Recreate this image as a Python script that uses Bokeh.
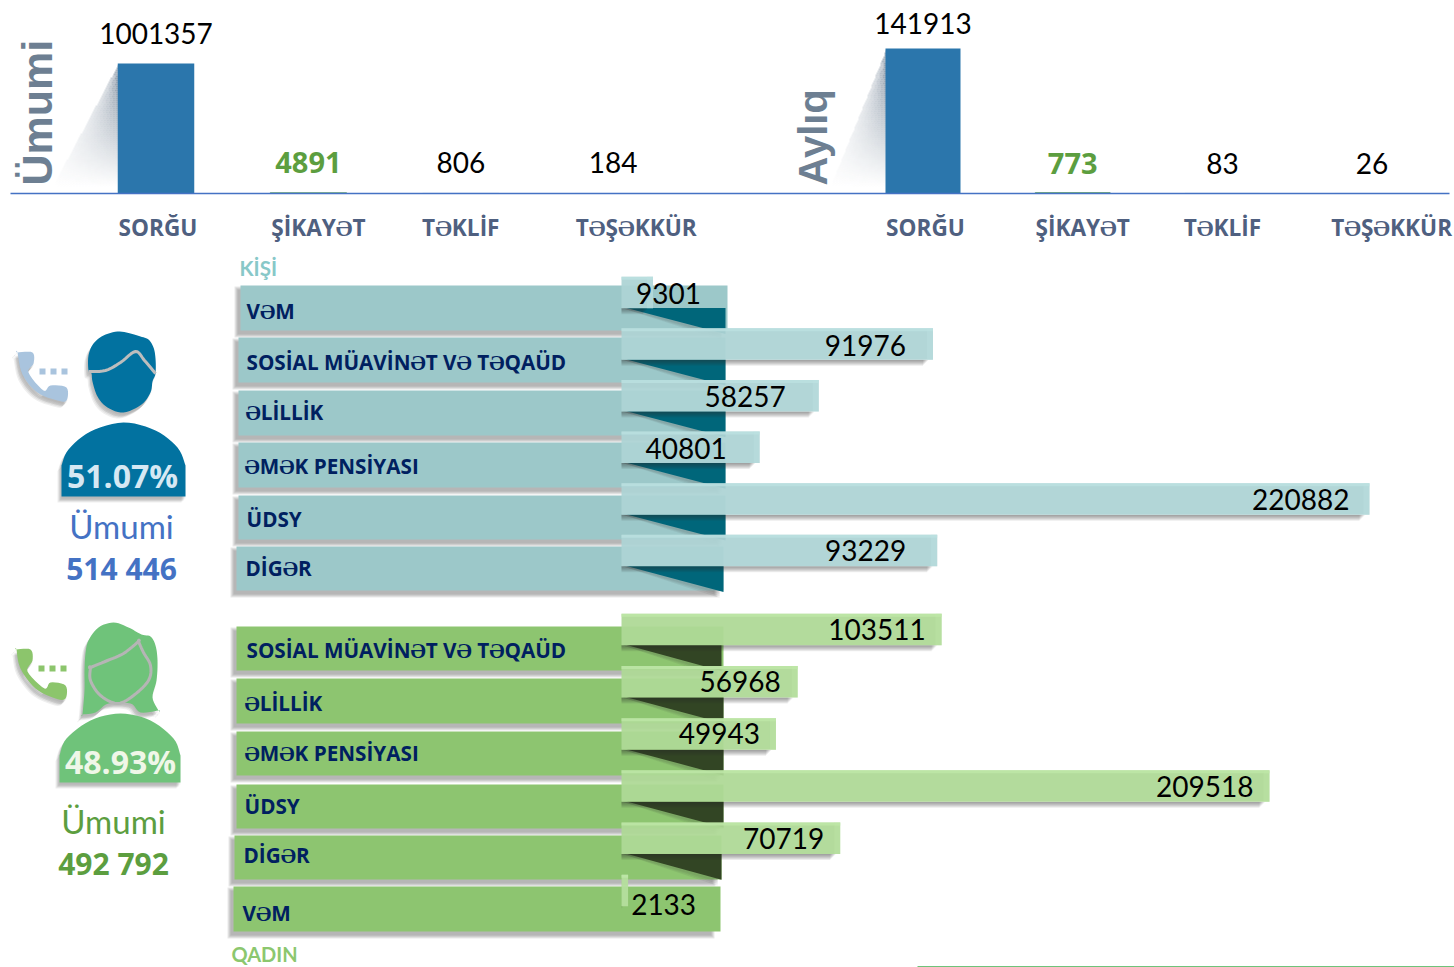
from math import pi
from bokeh.plotting import figure
from bokeh.models import Range1d
from bokeh.core.properties import value
from bokeh.embed import file_html
from bokeh.resources import INLINE

# ---------- data ----------
top_categories = ["SORĞU", "ŞİKAYƏT", "TƏKLİF", "TƏŞƏKKÜR"]
total_values = [1001357, 4891, 806, 184]
month_values = [141913, 773, 83, 26]
male_categories = ["VƏM", "SOSİAL MÜAVİNƏT VƏ TƏQAÜD", "ƏLİLLİK", "ƏMƏK PENSİYASI", "ÜDSY", "DİGƏR"]
male_values = [9301, 91976, 58257, 40801, 220882, 93229]
female_categories = ["SOSİAL MÜAVİNƏT VƏ TƏQAÜD", "ƏLİLLİK", "ƏMƏK PENSİYASI", "ÜDSY", "DİGƏR", "VƏM"]
female_values = [103511, 56968, 49943, 209518, 70719, 2133]

# ---------- layout (reference pixels) ----------
W, H = 1454, 967
X0, X1, Y0, Y1 = 0, W, 0, H
FONT = "Lato"
HEAVY = "Open Sans"
male_rect = [(240, 285, 727, 330), (238, 337, 725, 382), (238, 390, 725, 435),
             (238, 442, 725, 487), (238, 495, 725, 539), (236, 546, 723, 590)]
female_rect = [(236, 626, 723, 670), (236, 678, 723, 723), (236, 731, 723, 775),
               (236, 784, 723, 828), (234, 835, 721, 879), (233, 886, 720, 931)]
male_label_x = [246, 246, 245, 244, 246, 245]
male_label_y = [310, 361, 411, 465, 518, 567]
female_label_x = [246, 244, 244, 244, 243, 242]
female_label_y = [649, 702, 752, 805, 854, 912]
male_offsets = [48, -27, -33, -33, -20, -31]
female_offsets = [-16, -17, -16, -16, -16, 68]
male_y_offsets = [1, 1, 1, 1, 1, 0]
female_y_offsets = [0, 0, 0, 0, 0, 14]

p = figure(width=W, height=H, output_backend="svg", toolbar_location=None,
           x_range=Range1d(X0, X1), y_range=Range1d(Y1, Y0), min_border=0,
           background_fill_color="white", border_fill_color="white", outline_line_color=None)
p.axis.visible = False
p.grid.visible = False


def xr(name, origin, per_unit):
    p.extra_x_ranges[name] = Range1d((X0 - origin) / per_unit, (X1 - origin) / per_unit)


def yr_up(name, base, per_unit):
    p.extra_y_ranges[name] = Range1d((base - Y1) / per_unit, (base - Y0) / per_unit)


def yr_down(name, origin, per_unit):
    p.extra_y_ranges[name] = Range1d((Y1 - origin) / per_unit, (Y0 - origin) / per_unit)


def spline(pts, closed=False, n=6):
    m = len(pts)
    out = []
    last = m if closed else m - 1
    for i in range(last):
        if closed:
            a, b, c, d = pts[(i - 1) % m], pts[i], pts[(i + 1) % m], pts[(i + 2) % m]
        else:
            a, b, c, d = pts[max(i - 1, 0)], pts[i], pts[i + 1], pts[min(i + 2, m - 1)]
        for j in range(n):
            t = j / n
            q = []
            for k in (0, 1):
                q.append(0.5 * (2 * b[k] + (c[k] - a[k]) * t + (2 * a[k] - 5 * b[k] + 4 * c[k] - d[k]) * t * t
                                + (3 * b[k] - a[k] - 3 * c[k] + d[k]) * t ** 3))
            out.append(tuple(q))
    if not closed:
        out.append(pts[-1])
    return out


def patch(pts, color, alpha=1.0, dx=0, dy=0):
    p.patch([a + dx for a, _ in pts], [b + dy for _, b in pts], fill_color=color, fill_alpha=alpha, line_color=None)


def blurred(pts, dx=-3, dy=4):
    for k in (2.0, 1.0, 0.0):
        patch(pts, "#303030", 0.08, dx - k, dy + k)
        patch(pts, "#303030", 0.05, dx + k, dy - k)


def rect_shadow(l, t, r, b, ox=-3, oy=4, spread=4, alpha=0.10):
    for d in range(spread):
        p.quad(left=[l + ox - d], right=[r + ox + d - 6], top=[t + oy - d], bottom=[b + oy + d],
               fill_color="#303030", fill_alpha=alpha, line_color=None)


def txt(x, y, s, size, color, bold=False, align="center", angle=0, font=FONT, baseline="middle"):
    p.text([x], [y], text=[s], text_font=value(font), text_font_size=f"{size}px",
           text_font_style="bold" if bold else "normal", text_color=color, text_align=align,
           text_baseline=baseline, angle=angle)


# ---------- top panels ----------
def wedge(right, top, base, left):
    ls, rs, ts, bs, als = [], [], [], [], []
    step = 2
    for y in range(top, base, step):
        ty = (y - top) / (base - top)
        xl = round(right + (left - right) * ty)
        span = right - xl
        cols = max(1, span // 3)
        for c in range(cols):
            a = xl + round(span * c / cols)
            b = xl + round(span * (c + 1) / cols)
            u = (c + 0.5) / cols
            ls.append(a); rs.append(b); ts.append(y); bs.append(y + step)
            als.append(0.88 * (1 - ty) ** 1.05 * (0.3 + 0.7 * u))
    p.quad(left=ls, right=rs, top=ts, bottom=bs, fill_color="#66788c", fill_alpha=als, line_color=None)


wedge(118, 63, 186, 52)
wedge(886, 48, 186, 830)
txt(36, 185, "Ümumi", 43, "#6d7f92", True, "left", pi / 2, "Liberation Sans", "alphabetic")
txt(812, 185, "Aylıq", 40, "#6d7f92", True, "left", pi / 2, "Liberation Sans", "alphabetic")


def top_panel(tag, values, origin, spacing, bar_w, k, value_offsets, cat_offsets):
    xn, yn = tag + "_x", tag + "_y"
    xr(xn, origin, spacing)
    yr_up(yn, 193, k)
    idx = list(range(len(values)))
    p.vbar(x=idx, top=values, bottom=[0] * 4, width=bar_w / spacing, x_range_name=xn, y_range_name=yn,
           fill_color=["#2b76ac", "#5fa067", "#a9c6ea", "#a9c6ea"],
           line_color=["#2b76ac", "#5fa067", "#a9c6ea", "#a9c6ea"], line_alpha=[0, 1, 1, 1], line_width=1)
    colors = ["#000000", "#5c9e3f", "#000000", "#000000"]
    for i in idx:
        p.text([i], [values[i]], text=[str(values[i])], x_range_name=xn, y_range_name=yn,
               text_font=value(HEAVY if i == 1 else FONT), text_font_size="29px" if i == 1 else "28px",
               text_font_style="bold" if i == 1 else "normal", text_color=colors[i],
               text_align="center", text_baseline="middle", y_offset=value_offsets[i])
        p.text([i], [0], text=[top_categories[i]], x_range_name=xn, y_range_name=yn,
               text_font=value(HEAVY), text_font_size="22.6px", text_font_style="bold",
               text_color="#4f6080", text_align="center", text_baseline="middle",
               x_offset=cat_offsets[i], y_offset=34)


top_panel("tot", total_values, 155.5, 152.4, 76.5, 130 / 1001357, [-30, -30, -30.5, -30.5], [2, 10, 0, 23])
top_panel("mon", month_values, 922.5, 149.7, 75, 145 / 141913, [-25, -29, -29.5, -29.5], [2.5, 10, 0, 19.5])
p.segment([10], [193], [1449], [193], line_color="#4472c4", line_width=1.5)

# ---------- people icons ----------
man_shape = spline([(88, 370), (88, 355), (93, 343), (103, 335), (117, 331), (130, 333), (140, 336), (148, 339),
                    (153, 347), (155, 358), (155, 373), (152, 381), (150, 392), (141, 404), (123, 412),
                    (107, 407), (97, 396), (92, 381), (91, 373)], True)
man_body = [(61, 496)] + spline([(61, 465), (68, 449), (90, 431), (123, 422), (155, 430), (177, 447), (185, 465)]) + [(185, 496)]
man_hair_line = spline([(88, 371), (105, 370), (120, 362), (135, 351), (144, 360), (155, 373)])
man_phone = spline([(17, 352), (17, 352), (32, 352), (33, 363), (28, 372), (43, 390), (50, 385), (66, 387), (66, 400),
                    (57, 400), (37, 392), (22, 374)], True)
woman_shape = spline([(113, 622), (98, 627), (88, 640), (85, 653), (84, 670), (84, 690), (82, 714), (82, 714), (95, 712),
                      (108, 703), (130, 703), (140, 712), (158, 710), (158, 710), (152, 697), (156, 680), (157, 660),
                      (155, 645), (150, 636), (141, 634), (128, 627)], True)
woman_body = [(59, 782)] + spline([(59, 755), (66, 738), (90, 720), (120, 713), (150, 720), (173, 738), (180, 755)]) + [(180, 782)]
woman_face = spline([(138, 641), (138, 641), (123, 653), (107, 660), (90, 667), (90, 667), (90, 680), (100, 695), (117, 703),
                     (133, 695), (148, 680), (150, 665), (143, 652)], True)
woman_phone = spline([(16, 649), (16, 649), (30, 649), (32, 660), (27, 671), (44, 688), (50, 682), (65, 685), (65, 698),
                      (55, 698), (35, 688), (20, 668)], True)

for shape, color in ((man_shape, "#0272a0"), (man_body, "#0272a0"), (woman_shape, "#6fc37a"),
                     (woman_body, "#6fc37a"), (man_phone, "#a9c4de"), (woman_phone, "#8cc56c")):
    blurred(shape, -2, 4)
    patch(shape, color)
p.line([a for a, _ in man_hair_line], [b for _, b in man_hair_line], line_color="#bdbdbd", line_width=3)
p.line([a for a, _ in woman_face] + [woman_face[0][0]], [b for _, b in woman_face] + [woman_face[0][1]],
       line_color="#b5b5b5", line_width=3)
p.quad(left=[39, 50, 61], right=[45, 56, 67], top=[368] * 3, bottom=[374] * 3, fill_color="#a9c4de", line_color=None)
p.quad(left=[38, 49, 60], right=[44, 55, 66], top=[665] * 3, bottom=[671] * 3, fill_color="#8cc56c", line_color=None)

txt(122, 475, "51.07%", 32, "#d6e8f3", True, font=HEAVY)
txt(121, 525, "Ümumi", 33, "#4472c4")
txt(121, 568, "514 446", 30, "#4472c4", True, font=HEAVY)
txt(120, 761, "48.93%", 32, "#eff7e8", True, font=HEAVY)
txt(113, 820, "Ümumi", 33, "#5c9e3f")
txt(113, 863, "492 792", 30, "#5c9e3f", True, font=HEAVY)

txt(239, 267, "KİŞİ", 20.5, "#88c8c8", True, "left")
txt(231, 953, "QADIN", 20, "#8cc76e", True, "left")
p.segment([917], [966], [1454], [966], line_color="#6fc37a", line_width=1)


# ---------- horizontal panels ----------
def bar_panel(tag, cats, values, rects, lab_x, lab_y, offsets, y_offsets, first_y, row_h, per_value,
              rect_col, tri_col, body_col, light_col):
    xn, yn = tag + "_x", tag + "_y"
    xr(xn, 621, per_value)
    yr_down(yn, first_y, row_h)
    idx = list(range(len(values)))
    h = 31.5 / row_h

    for (l, t, r, b) in rects:
        rect_shadow(l, t, r, b)
    for (l, t, r, b) in rects:
        p.quad(left=[l], right=[r], top=[t], bottom=[b], fill_color=rect_col, line_color=None)
    for i in idx:
        txt(lab_x[i], lab_y[i], cats[i], 20.7, "#002060", True, "left", font=HEAVY)

    # folded corner under each bar
    for i in idx:
        if values[i] < 5000:
            continue
        y = first_y + row_h * i + 15.5
        r = rects[i][2] if i else rects[i][2] - 2
        tip = y + 26
        for k in (6, 4, 2):
            p.patch([621, r - 4, r - 4], [y, y + k, tip + k], fill_color="#303030", fill_alpha=0.07, line_color=None)
        p.patch([626, r, r], [y, y, tip], fill_color=tri_col, line_color=None)

    # soft shadow band below each bar
    unit = 1 / per_value
    for d in range(1, 7):
        p.hbar(y=[i + (h / 2) + d / 2 / row_h for i in idx], left=[0] * 6,
               right=[max(v - (4 + d) * unit, 0) for v in values], height=d / row_h,
               x_range_name=xn, y_range_name=yn, fill_color="#303030", fill_alpha=0.09, line_color=None)
    p.hbar(y=idx, left=[0] * 6, right=values, height=h, x_range_name=xn, y_range_name=yn,
           fill_color=body_col, fill_alpha=0.94, line_color=None)
    p.hbar(y=[i - (h / 2 - 1.5 / row_h) for i in idx], left=[0] * 6, right=values, height=3 / row_h,
           x_range_name=xn, y_range_name=yn, fill_color=light_col, fill_alpha=0.7, line_color=None)
    p.hbar(y=idx, left=[max(v - 6 * unit, 0) for v in values], right=values, height=h,
           x_range_name=xn, y_range_name=yn, fill_color=light_col, fill_alpha=0.35, line_color=None)

    for i in idx:
        p.text([values[i]], [i], text=[str(values[i])], x_range_name=xn, y_range_name=yn,
               text_font=value(FONT), text_font_size="28px", text_color="#000000",
               text_align="right", text_baseline="middle", x_offset=offsets[i], y_offset=y_offsets[i])


bar_panel("male", male_categories, male_values, male_rect, male_label_x, male_label_y, male_offsets, male_y_offsets,
          292, 51.6, 748 / 220882, "#9cc8c9", "#00667a", "#add3d4", "#bde3e3")
bar_panel("female", female_categories, female_values, female_rect, female_label_x, female_label_y, female_offsets, female_y_offsets,
          629, 52.2, 648 / 209518, "#8dc570", "#324524", "#aed996", "#c0e9a9")

open("out.html", "w").write(file_html(p, INLINE))
